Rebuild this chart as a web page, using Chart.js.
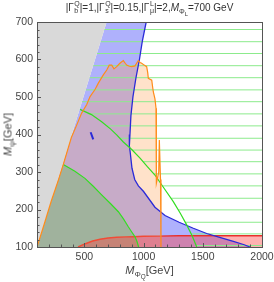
<!DOCTYPE html>
<html><head><meta charset="utf-8">
<script src="https://cdn.jsdelivr.net/npm/chart.js@4"></script>
<style>
html,body{margin:0;padding:0;background:#fff;}
#wrap{position:relative;width:274px;height:282px;overflow:hidden;}
canvas{display:block;}
.t{position:absolute;font-family:'Liberation Sans',Arial,sans-serif;color:#333;white-space:nowrap;text-align:center;}
.ss{display:inline-block;vertical-align:middle;font-size:0.7em;line-height:0.9;text-align:left;position:relative;top:-0.1em;margin-left:0.5px;}
.ss span{display:block;}
sub{font-size:0.72em;line-height:0;vertical-align:-0.35em;}
sub sub{font-size:0.8em;}
</style></head>
<body><div id="wrap">
<canvas id="c" width="274" height="282"></canvas>
<div class="t" id="title" style="left:37px;top:1px;width:225px;font-size:10px;line-height:13px;">|Γ<span class="ss"><span>Q</span><span>b</span></span>|=1,|Γ<span class="ss"><span>Q</span><span>s</span></span>|=0.15,|Γ<span class="ss"><span>L</span><span>μ</span></span>|=2,<i>M</i><sub>Φ<sub>L</sub></sub>=700 GeV</div>
<div class="t" id="xt" style="left:37px;top:264px;width:225px;font-size:11px;line-height:13px;color:#444;"><i>M</i><sub>Φ<sub>Q</sub></sub>[GeV]</div>
<div class="t" id="yt" style="left:-42px;top:128px;width:100px;font-size:11px;line-height:13px;color:#444;transform:rotate(-90deg);"><i>M</i><sub>ψ</sub>[GeV]</div>
</div>
<script>
// axis ranges and ticks
const xMin = 100, xMax = 2000, yMin = 100, yMax = 700;
const xTicks = [500, 1000, 1500, 2000];
const yTicks = [100, 200, 300, 400, 500, 600, 700];

// gray excluded region edge
const grayEdgeX = [100, 688];
const grayEdgeY = [100, 700];

// dark blue contour
const blueX = [1022, 990, 965, 935, 910, 893, 885, 880, 888, 902, 925, 956, 1000, 1096, 1181, 1300, 1420, 1533, 1650, 1758, 1850, 1899];
const blueY = [700, 650, 600, 550, 500, 450, 400, 370, 350, 310, 280, 263, 248, 206, 184, 166, 150, 136, 125, 115, 106, 100];

// orange contour
const orangeX = [100, 160, 220, 280, 322, 390, 435, 477, 520, 548, 590, 618, 660, 689, 710, 731, 750, 773, 800, 829, 845, 857, 880, 900, 928, 945, 955, 970, 984, 1005, 1026, 1035, 1040, 1069, 1075, 1082, 1096, 1105, 1108, 1128, 1133, 1138, 1143, 1147];
const orangeY = [100, 160, 222, 278, 320, 392, 425, 457, 480, 501, 520, 537, 559, 572, 585, 585, 575, 581, 590, 597, 590, 585, 582, 581, 583, 592, 597, 592, 590, 585, 581, 565, 550, 545, 530, 514, 495, 470, 270, 300, 385, 385, 280, 100];

// green contours
const greenUpX = [463, 560, 646, 720, 773, 829, 900, 970, 1030, 1096, 1170, 1251, 1310, 1364, 1410, 1449];
const greenUpY = [467, 453, 434, 415, 399, 380, 360, 337, 315, 292, 258, 221, 190, 159, 130, 100];
const greenLoX = [322, 420, 505, 575, 646, 720, 787, 830, 871, 900, 928, 945, 958];
const greenLoY = [320, 302, 283, 262, 239, 216, 194, 175, 154, 140, 127, 114, 100];

// red contour
const redX = [447, 480, 520, 570, 632, 700, 773, 850, 913, 1000, 1139, 1300, 1600, 2000];
const redY = [100, 105, 110, 116, 120.5, 124, 126, 127, 127.5, 128.5, 129, 130, 130, 130];

// green hatch lines
const hatchY = [680, 647.5, 616, 583.5, 551.5, 519, 487.5, 455, 423, 390, 358.5, 327.5, 295, 263, 230, 199, 166, 135, 104];
const hatchStartX = [668, 636, 606, 574, 542, 510, 480, 531, 687, 800, 899, 997, 1088, 1160, 1232, 1292, 1351, 1399, 1444];

// small blue island
const spotX = [553, 575];
const spotY = [406, 387];

const pts = (xs, ys) => xs.map((x, i) => ({x, y: ys[i]}));

const grayPoly = [...pts(grayEdgeX, grayEdgeY), {x: xMin, y: yMax}];
const bluePoly = [...pts(grayEdgeX, grayEdgeY), ...pts(blueX, blueY)];
const orangePoly = pts(orangeX, orangeY);
const kG = orangeX.indexOf(greenLoX[0]);
const greenPoly = [...pts(orangeX.slice(0, kG + 1), orangeY.slice(0, kG + 1)), ...pts(greenLoX, greenLoY).slice(1)];
const redPoly = [...pts(redX, redY), {x: xMax, y: yMin}];
const hatchData = [];
hatchY.forEach((y, i) => { hatchData.push({x: hatchStartX[i], y}, {x: xMax, y}, {x: null, y: null}); });

function poly(data, color, order) {
  return {data, backgroundColor: color, borderWidth: 0, fill: 'shape', showLine: true, pointRadius: 0, order};
}
function line(data, color, width, order) {
  return {data, borderColor: color, borderWidth: width, fill: false, showLine: true, pointRadius: 0, order, spanGaps: false};
}

// higher order = drawn earlier (further below)
const datasets = [
  poly(bluePoly, 'rgba(95,100,250,0.5)', 30),
  poly(greenPoly, 'rgba(40,202,100,0.4)', 29),
  line(pts(redX, redY), '#e62e2a', 1.5, 28),
  poly(orangePoly, 'rgba(255,160,80,0.3)', 27),
  poly(redPoly, 'rgba(255,60,60,0.4)', 26),
  line(hatchData, 'rgb(140,235,140)', 1, 25),
  poly(grayPoly, '#d9d9d9', 24),
  line(pts(blueX, blueY), '#2a2ad8', 1.3, 10),
  line(pts(greenUpX, greenUpY), '#33dd22', 1.2, 9),
  line(pts(greenLoX, greenLoY), '#33dd22', 1.2, 9),
  line(pts(orangeX, orangeY), '#ff8c1a', 1.2, 7),
  line(pts(spotX, spotY), '#2a2ad8', 2, 6)
];

const frame = {
  id: 'frame',
  afterDatasetsDraw(chart) {
    const {ctx, chartArea: a, scales: {x, y}} = chart;
    ctx.save();
    ctx.strokeStyle = '#555';
    ctx.lineWidth = 1;
    ctx.beginPath();
    for (let v = yMin; v <= yMax; v += 20) {
      const p = Math.round(y.getPixelForValue(v)) + 0.5;
      const L = (v % 100 === 0) ? 4 : 2.5;
      ctx.moveTo(a.left, p); ctx.lineTo(a.left + L, p);
    }
    for (let v = xMin; v <= xMax; v += 100) {
      const p = Math.round(x.getPixelForValue(v)) + 0.5;
      const L = (v % 500 === 0) ? 4 : 2.5;
      ctx.moveTo(p, a.bottom); ctx.lineTo(p, a.bottom - L);
    }
    ctx.stroke();
    ctx.strokeRect(Math.round(a.left) + 0.5, Math.round(a.top) + 0.5, Math.round(a.right - a.left), Math.round(a.bottom - a.top));
    ctx.restore();
  }
};

const tickFont = {family: "'Liberation Sans', Arial, sans-serif", size: 10.5, weight: 'normal'};
new Chart(document.getElementById('c'), {
  type: 'scatter',
  data: {datasets},
  options: {
    responsive: false, animation: false, devicePixelRatio: 1,
    layout: {padding: {top: 22, right: 12, left: 0, bottom: 0}},
    plugins: {legend: {display: false}, tooltip: {enabled: false}, title: {display: false}},
    scales: {
      x: {type: 'linear', min: xMin, max: xMax,
        afterBuildTicks: s => { s.ticks = xTicks.map(v => ({value: v})); },
        afterFit: s => { s.height = 35; s.paddingLeft = 0; s.paddingRight = 0; },
        grid: {display: false, drawTicks: false}, border: {display: false},
        ticks: {padding: 4, font: tickFont, color: '#444', maxRotation: 0, autoSkip: false, callback: v => String(v)}},
      y: {type: 'linear', min: yMin, max: yMax,
        afterBuildTicks: s => { s.ticks = yTicks.map(v => ({value: v})); },
        afterFit: s => { s.width = 37; s.paddingTop = 0; s.paddingBottom = 0; },
        grid: {display: false, drawTicks: false}, border: {display: false},
        ticks: {padding: 4, font: tickFont, color: '#444', autoSkip: false, callback: v => String(v)}}
    }
  },
  plugins: [frame]
});
</script>
</body></html>
